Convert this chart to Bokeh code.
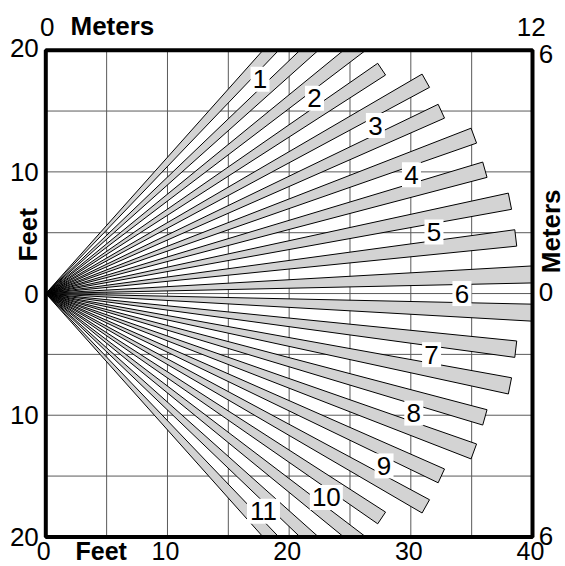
import numpy as np
from bokeh.plotting import figure
from bokeh.models import Label, Range1d, ColumnDataSource
from bokeh.embed import file_html
from bokeh.resources import INLINE
from bokeh.core.properties import value

# ---- data (feet) ----
zone_labels = ["1", "2", "3", "4", "5", "6", "7", "8", "9", "10", "11"]
zone_angles = [45, 36, 27, 18, 9, 0, -9, -18, -27, -36, -45]          # degrees
zone_lengths = [32.0, 33.2, 35.8, 37.5, 38.9, 41.0, 38.9, 37.5, 35.8, 33.2, 32.0]
label_radii = [24.9, 27.3, 30.4, 31.6, 32.3, 34.2, 32.1, 31.8, 31.2, 28.5, 25.3]
beam_offset = 2.25   # degrees each beam sits from the zone centre
beam_width = 2.0     # angular width of one beam, degrees

grid_x = [5, 10, 15, 20, 25, 30, 35]
grid_y = [-15, -10, -5, 0, 5, 10, 15]
feet_x_ticks = [0, 10, 20, 30, 40]
feet_x_labels = ["0", "10", "20", "30", "40"]
feet_y_ticks = [20, 10, 0, -10, -20]
feet_y_labels = ["20", "10", "0", "10", "20"]
meter_top_ticks = [0, 40]
meter_top_labels = ["0", "12"]
meter_right_ticks = [20, 0, -20]
meter_right_labels = ["6", "0", "6"]

X0, X1, Y0, Y1 = 0, 40, -20, 20
FONT = "Liberation Sans"
W, H = 565, 566
S = 486.7 / 40.0            # pixels per foot
LEFT_PX, TOP_PX = 45.3, 49.7
x_start = X0 - LEFT_PX / S
y_end = Y1 + TOP_PX / S

p = figure(frame_width=W, frame_height=H,
           x_range=Range1d(x_start, x_start + W / S),
           y_range=Range1d(y_end - H / S, y_end),
           x_axis_location=None, y_axis_location=None,
           min_border=0, toolbar_location=None, output_backend="svg")
p.background_fill_color = "white"
p.border_fill_color = "white"
p.outline_line_color = None
p.xgrid.visible = False
p.ygrid.visible = False


def px(n):
    return n / S


# ---- grid ----
p.segment(x0=grid_x, y0=[Y0] * len(grid_x), x1=grid_x, y1=[Y1] * len(grid_x),
          line_color="#5a5a5a", line_width=1)
p.segment(x0=[X0] * len(grid_y), y0=grid_y, x1=[X1] * len(grid_y), y1=grid_y,
          line_color="#5a5a5a", line_width=1)


# ---- beams, clipped to the plotting box ----
def clip(poly):
    def edge(pts, inside, inter):
        out = []
        n = len(pts)
        for i in range(n):
            a, b = pts[i - 1], pts[i]
            ia, ib = inside(a), inside(b)
            if ib:
                if not ia:
                    out.append(inter(a, b))
                out.append(b)
            elif ia:
                out.append(inter(a, b))
        return out

    def ix(xc):
        return lambda a, b: (xc, a[1] + (b[1] - a[1]) * (xc - a[0]) / (b[0] - a[0]))

    def iy(yc):
        return lambda a, b: (a[0] + (b[0] - a[0]) * (yc - a[1]) / (b[1] - a[1]), yc)

    pts = poly
    pts = edge(pts, lambda q: q[0] >= X0, ix(X0))
    pts = edge(pts, lambda q: q[0] <= X1, ix(X1))
    pts = edge(pts, lambda q: q[1] >= Y0, iy(Y0))
    pts = edge(pts, lambda q: q[1] <= Y1, iy(Y1))
    return pts


xs, ys = [], []
for a, L in zip(zone_angles, zone_lengths):
    for side in (-1, 1):
        c = np.radians(a + side * beam_offset)
        h = np.radians(beam_width / 2)
        poly = [(0.0, 0.0), (L * np.cos(c - h), L * np.sin(c - h)),
                (L * np.cos(c + h), L * np.sin(c + h))]
        cp = clip(poly)
        xs.append([q[0] for q in cp])
        ys.append([q[1] for q in cp])
p.patches(xs, ys, fill_color="#d3d3d3", line_color="black", line_width=1)

# ---- frame ----
p.quad(left=[X0], right=[X1], bottom=[Y0], top=[Y1], fill_color=None,
       line_color="black", line_width=4)

# ---- zone labels ----
lx = [r * np.cos(np.radians(a)) for r, a in zip(label_radii, zone_angles)]
ly = [r * np.sin(np.radians(a)) for r, a in zip(label_radii, zone_angles)]
lw = [5 + 14 * len(t) for t in zone_labels]
src = ColumnDataSource(dict(x=lx, y=ly, t=zone_labels, w=lw))
p.rect(x="x", y="y", width="w", height=25, width_units="screen", height_units="screen",
       source=src, fill_color="white", line_color=None)
p.text(x="x", y="y", text="t", source=src, text_align="center", text_baseline="middle",
       text_font=value(FONT), text_font_size=value("26px"), text_color="black")


def lab(x, y, t, align="center", bold=False, angle=0.0, size="26px"):
    p.add_layout(Label(x=x, y=y, text=t, text_align=align, text_baseline="middle",
                       text_font=FONT, text_font_size=size,
                       text_font_style="bold" if bold else "normal",
                       angle=angle, text_color="black"))


# left feet ticks
for v, t in zip(feet_y_ticks, feet_y_labels):
    lab(X0 - px(7), v + (px(2) if v == Y1 else 0), t, align="right")
# bottom feet ticks (kept just inside the page bottom)
for v, t in zip(feet_x_ticks, feet_x_labels):
    lab(v - px(2), Y0 - px(14), t, size="25px")
# top meter ticks
for v, t in zip(meter_top_ticks, meter_top_labels):
    lab(v + (px(1.4) if v == X0 else px(-1.2)), Y1 + px(23.3), t)
# right meter ticks
for v, t in zip(meter_right_ticks, meter_right_labels):
    lab(X1 + px(6.3), v + (px(-3.5) if v == Y1 else px(1.3)), t, align="left")

# axis titles
lab(X0 + px(24.7), Y1 + px(24), "Meters", align="left", bold=True)
lab(X0 + px(29.7), Y0 - px(14), "Feet", align="left", bold=True, size="25px")
lab(X0 - px(17.8), px(58.8), "Feet", bold=True, angle=np.pi / 2)
lab(X1 + px(18), px(62.2), "Meters", bold=True, angle=np.pi / 2)

open("out.html", "w").write(file_html(p, INLINE))
